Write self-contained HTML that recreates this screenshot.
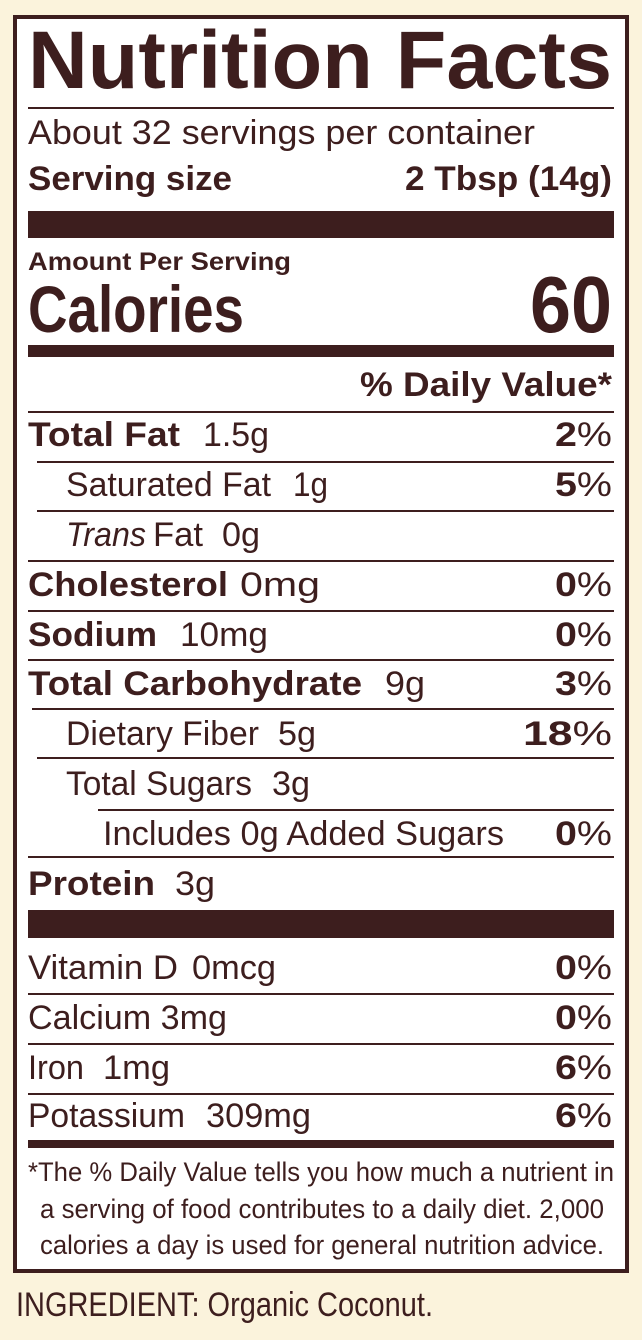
<!DOCTYPE html>
<html><head><meta charset="utf-8"><style>
html,body{margin:0;padding:0;background:#fbf3dc;}
svg{display:block;}
text{font-family:"Liberation Sans",sans-serif;fill:#3d1e1e;white-space:pre;}
.b{font-weight:bold;}
</style></head><body>
<svg width="642" height="1340" viewBox="0 0 642 1340" xmlns="http://www.w3.org/2000/svg" xml:space="preserve">
<rect x="0" y="0" width="642" height="1340" fill="#fbf3dc"/>
<rect x="15" y="17" width="612" height="1254" fill="#fff" stroke="#3d1e1e" stroke-width="4"/>
<g fill="#3d1e1e">
<rect x="28" y="107" width="586" height="2"/>
<rect x="28" y="211" width="586" height="27"/>
<rect x="28" y="345" width="586" height="12"/>
<rect x="28" y="411" width="586" height="2"/>
<rect x="37" y="461" width="577" height="2"/>
<rect x="37" y="510" width="577" height="2"/>
<rect x="28" y="560" width="586" height="2"/>
<rect x="28" y="610" width="586" height="2"/>
<rect x="28" y="659" width="586" height="2"/>
<rect x="32" y="708" width="582" height="2"/>
<rect x="37" y="757" width="577" height="2"/>
<rect x="98" y="809" width="516" height="2"/>
<rect x="28" y="856" width="586" height="2"/>
<rect x="28" y="910" width="586" height="28"/>
<rect x="28" y="993" width="586" height="2"/>
<rect x="28" y="1043" width="586" height="2"/>
<rect x="28" y="1093" width="586" height="2"/>
<rect x="28" y="1140" width="586" height="8"/>
</g>
<text class="b" x="28" y="88" font-size="82" textLength="584" lengthAdjust="spacingAndGlyphs">Nutrition Facts</text>
<text x="28" y="144" font-size="34" textLength="507" lengthAdjust="spacingAndGlyphs">About 32 servings per container</text>
<text class="b" x="28" y="190" font-size="34" textLength="204" lengthAdjust="spacingAndGlyphs">Serving size</text>
<text class="b" x="405" y="190" font-size="34" textLength="207" lengthAdjust="spacingAndGlyphs">2 Tbsp (14g)</text>
<text class="b" x="28" y="270" font-size="25" textLength="263" lengthAdjust="spacingAndGlyphs">Amount Per Serving</text>
<text class="b" x="28" y="332" font-size="66" textLength="216" lengthAdjust="spacingAndGlyphs">Calories</text>
<text class="b" x="530" y="332" font-size="80" textLength="82" lengthAdjust="spacingAndGlyphs">60</text>
<text class="b" x="360" y="396" font-size="34" textLength="252" lengthAdjust="spacingAndGlyphs">% Daily Value*</text>

<text class="b" x="28" y="446" font-size="34" textLength="152" lengthAdjust="spacingAndGlyphs">Total Fat</text>
<text x="203" y="446" font-size="34" textLength="66" lengthAdjust="spacingAndGlyphs">1.5g</text>
<text x="555" y="446" font-size="34" textLength="57" lengthAdjust="spacingAndGlyphs"><tspan class="b">2</tspan>%</text>

<text x="66" y="496" font-size="34" textLength="205" lengthAdjust="spacingAndGlyphs">Saturated Fat</text>
<text x="293" y="496" font-size="34" textLength="35" lengthAdjust="spacingAndGlyphs">1g</text>
<text x="555" y="496" font-size="34" textLength="57" lengthAdjust="spacingAndGlyphs"><tspan class="b">5</tspan>%</text>

<text x="66" y="546" font-size="34" textLength="80" lengthAdjust="spacingAndGlyphs" font-style="italic">Trans</text>
<text x="153" y="546" font-size="34" textLength="50" lengthAdjust="spacingAndGlyphs">Fat</text>
<text x="222" y="546" font-size="34" textLength="38" lengthAdjust="spacingAndGlyphs">0g</text>

<text class="b" x="28" y="596" font-size="34" textLength="200" lengthAdjust="spacingAndGlyphs">Cholesterol</text>
<text x="240" y="596" font-size="34" textLength="80" lengthAdjust="spacingAndGlyphs">0mg</text>
<text x="555" y="596" font-size="34" textLength="57" lengthAdjust="spacingAndGlyphs"><tspan class="b">0</tspan>%</text>

<text class="b" x="28" y="646" font-size="34" textLength="129" lengthAdjust="spacingAndGlyphs">Sodium</text>
<text x="180" y="646" font-size="34" textLength="88" lengthAdjust="spacingAndGlyphs">10mg</text>
<text x="555" y="646" font-size="34" textLength="57" lengthAdjust="spacingAndGlyphs"><tspan class="b">0</tspan>%</text>

<text class="b" x="28" y="695" font-size="34" textLength="334" lengthAdjust="spacingAndGlyphs">Total Carbohydrate</text>
<text x="385" y="695" font-size="34" textLength="40" lengthAdjust="spacingAndGlyphs">9g</text>
<text x="555" y="695" font-size="34" textLength="57" lengthAdjust="spacingAndGlyphs"><tspan class="b">3</tspan>%</text>

<text x="66" y="745" font-size="34" textLength="193" lengthAdjust="spacingAndGlyphs">Dietary Fiber</text>
<text x="278" y="745" font-size="34" textLength="38" lengthAdjust="spacingAndGlyphs">5g</text>
<text x="523" y="745" font-size="34" textLength="89" lengthAdjust="spacingAndGlyphs"><tspan class="b">18</tspan>%</text>

<text x="66" y="795" font-size="34" textLength="186" lengthAdjust="spacingAndGlyphs">Total Sugars</text>
<text x="272" y="795" font-size="34" textLength="38" lengthAdjust="spacingAndGlyphs">3g</text>

<text x="103" y="845" font-size="34" textLength="401" lengthAdjust="spacingAndGlyphs">Includes 0g Added Sugars</text>
<text x="555" y="845" font-size="34" textLength="57" lengthAdjust="spacingAndGlyphs"><tspan class="b">0</tspan>%</text>

<text class="b" x="28" y="895" font-size="34" textLength="127" lengthAdjust="spacingAndGlyphs">Protein</text>
<text x="175" y="895" font-size="34" textLength="40" lengthAdjust="spacingAndGlyphs">3g</text>

<text x="28" y="979" font-size="34" textLength="150" lengthAdjust="spacingAndGlyphs">Vitamin D</text>
<text x="192" y="979" font-size="34" textLength="84" lengthAdjust="spacingAndGlyphs">0mcg</text>
<text x="555" y="979" font-size="34" textLength="57" lengthAdjust="spacingAndGlyphs"><tspan class="b">0</tspan>%</text>
<text x="28" y="1029" font-size="34" textLength="199" lengthAdjust="spacingAndGlyphs">Calcium 3mg</text>
<text x="555" y="1029" font-size="34" textLength="57" lengthAdjust="spacingAndGlyphs"><tspan class="b">0</tspan>%</text>
<text x="28" y="1079" font-size="34" textLength="56" lengthAdjust="spacingAndGlyphs">Iron</text>
<text x="103" y="1079" font-size="34" textLength="67" lengthAdjust="spacingAndGlyphs">1mg</text>
<text x="555" y="1079" font-size="34" textLength="57" lengthAdjust="spacingAndGlyphs"><tspan class="b">6</tspan>%</text>
<text x="28" y="1127" font-size="34" textLength="157" lengthAdjust="spacingAndGlyphs">Potassium</text>
<text x="206" y="1127" font-size="34" textLength="105" lengthAdjust="spacingAndGlyphs">309mg</text>
<text x="555" y="1127" font-size="34" textLength="57" lengthAdjust="spacingAndGlyphs"><tspan class="b">6</tspan>%</text>

<text x="28" y="1181" font-size="27" textLength="586" lengthAdjust="spacingAndGlyphs">*The % Daily Value tells you how much a nutrient in</text>
<text x="40" y="1218" font-size="27" textLength="564" lengthAdjust="spacingAndGlyphs">a serving of food contributes to a daily diet. 2,000</text>
<text x="40" y="1254" font-size="27" textLength="564" lengthAdjust="spacingAndGlyphs">calories a day is used for general nutrition advice.</text>

<text x="16" y="1316" font-size="34" textLength="417" lengthAdjust="spacingAndGlyphs">INGREDIENT: Organic Coconut.</text>
</svg>
</body></html>
